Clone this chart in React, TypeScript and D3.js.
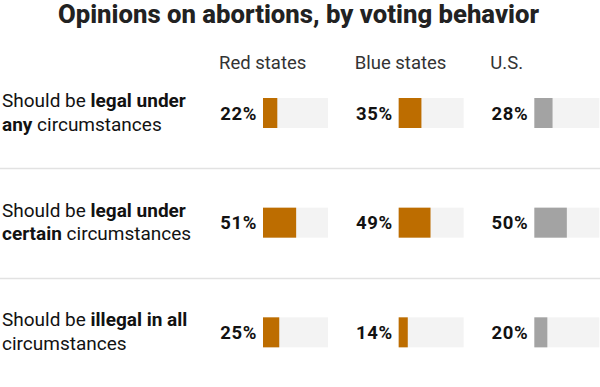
import React from 'react';
import * as d3 from 'd3';

// data
const columns = ['Red states', 'Blue states', 'U.S.'];
const rowIds = ['any', 'certain', 'illegal'];
const rowLabels = [
  [[['Should be ', false], ['legal under', true]], [['any', true], [' circumstances', false]]],
  [[['Should be ', false], ['legal under', true]], [['certain', true], [' circumstances', false]]],
  [[['Should be ', false], ['illegal in all', true]], [['circumstances', false]]],
] as Array<Array<Array<[string, boolean]>>>;
const redValues = [22, 51, 25];
const blueValues = [35, 49, 14];
const usValues = [28, 50, 20];
const seriesValues = [redValues, blueValues, usValues];
const barColors = ['#bd6d00', '#bd6d00', '#a3a3a3'];

const title = 'Opinions on abortions, by voting behavior';

const width = 600;
const height = 387;
const font = 'Roboto, "Liberation Sans", sans-serif';

const App: React.FC = () => {
  const barH = 30;
  const trackW = 65;

  const y = d3.scaleBand<string>().domain(rowIds).range([60, 389]);
  const barTop = (r: string) => (y(r) as number) + 38;

  const x = d3.scaleBand<string>().domain(columns).range([263, 670]);
  const w = d3.scaleLinear().domain([0, 100]).range([0, trackW]);

  return (
    <svg width={width} height={height} style={{ position: 'absolute', left: 0, top: 0 }} fontFamily={font}>
      <rect width={width} height={height} fill="#fff" />
      <text x={58} y={23} fontSize={26} fontWeight={800} fill="#222" textLength={481} lengthAdjust="spacingAndGlyphs">
        {title}
      </text>

      {columns.map(c => (
        <text key={c} x={(x(c) as number) - 44} y={68.5} fontSize={18.5} fill="#333">{c}</text>
      ))}

      {rowIds.slice(1).map((r, i) => {
        const prevBottom = barTop(rowIds[i]) + barH;
        const sy = Math.round((prevBottom + barTop(r)) / 2) + 0.5;
        return <line key={r} x1={0} x2={width} y1={sy} y2={sy} stroke="#e2e2e2" strokeWidth={1.5} />;
      })}

      {rowIds.map((r, ri) => {
        const cy = barTop(r) + barH / 2;
        return (
          <g key={r}>
            {rowLabels[ri].map((line, li) => (
              <text key={li} x={2} y={cy - 6 + li * 23.7} fontSize={19} fill="#121212">
                {line.map(([t, b], k) => (
                  <tspan key={k} fontWeight={b ? 700 : 400}>{t}</tspan>
                ))}
              </text>
            ))}
            {columns.map((c, ci) => {
              const x0 = x(c) as number;
              const v = seriesValues[ci][ri];
              return (
                <g key={c}>
                  <text x={x0 - 6} y={cy + 6.5} textAnchor="end" fontSize={18.5} fontWeight={700}
                    letterSpacing={0.6} fill="#121212">
                    {v}%
                  </text>
                  <rect x={x0} y={barTop(r)} width={trackW} height={barH} fill="#f3f3f3" />
                  <rect x={x0} y={barTop(r)} width={w(v)} height={barH} fill={barColors[ci]} />
                </g>
              );
            })}
          </g>
        );
      })}
    </svg>
  );
};

export default App;
